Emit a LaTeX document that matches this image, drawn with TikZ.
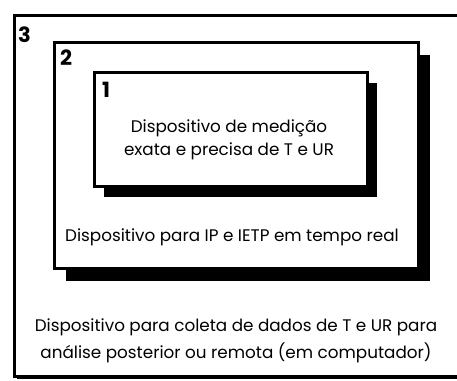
\documentclass[tikz,border=0pt]{standalone}
\usepackage{fontspec}
\setmainfont{Poppins}
\usetikzlibrary{shadows}
\begin{document}
\begin{tikzpicture}[x=1pt,y=-1pt,
  panel/.style={draw=black, line width=2.8pt, fill=white, inner sep=0pt, anchor=north west},
  num/.style={font=\bfseries\fontsize{21}{21}\selectfont, anchor=north west, inner sep=0pt},
  txt/.style={font=\fontsize{16.8}{23}\selectfont, align=center, inner sep=0pt}]
\useasboundingbox (0,0) rectangle (457,380);
\begin{scope}
\clip (0,0) rectangle (457,380);
\node[panel, minimum width=460pt, minimum height=361pt,
  drop shadow={shadow xshift=3pt, shadow yshift=-3pt, opacity=1, fill=black}] (box3) at (13,14) {};
\end{scope}
\node[panel, minimum width=364pt, minimum height=226pt,
  drop shadow={shadow xshift=12pt, shadow yshift=-13pt, opacity=1, fill=black}] (box2) at (53,41) {};
\node[panel, minimum width=273pt, minimum height=114pt,
  drop shadow={shadow xshift=10pt, shadow yshift=-11pt, opacity=1, fill=black}] (box1) at (93,71) {};
\node[num] (n3) at (18,27) {3};
\node[num] (n2) at (60,50) {2};
\node[num] (n1) at (102,82) {1};
\node[txt] (t1) at (229,140) {Dispositivo de medição\\exata e precisa de T e UR};
\node[txt] (t2) at (232,237) {Dispositivo para IP e IETP em tempo real};
\node[txt, font=\fontsize{16.8}{27}\selectfont] (t3) at (236,341) {Dispositivo para coleta de dados de T e UR para\\análise posterior ou remota (em computador)};
\end{tikzpicture}
\end{document}
